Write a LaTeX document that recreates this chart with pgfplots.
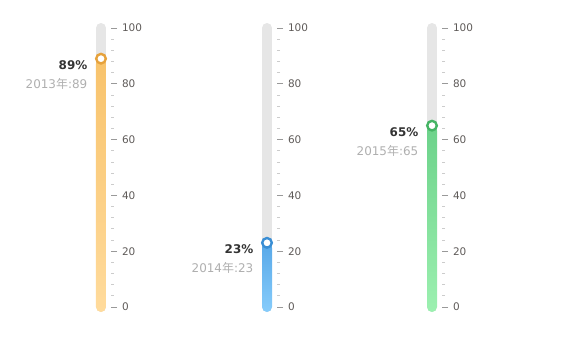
\documentclass[border=0pt]{standalone}
\usepackage{pgfplots}
\pgfplotsset{compat=1.18}
\usepackage{fontspec}
\setmainfont{DejaVu Sans}
\newfontfamily\cjk{Noto Sans CJK SC}
\definecolor{track}{HTML}{E6E6E6}
\definecolor{obot}{HTML}{FFDB9C}
\definecolor{otop}{HTML}{F8C36C}
\definecolor{omark}{HTML}{E6A23C}
\definecolor{bbot}{HTML}{86CCFB}
\definecolor{btop}{HTML}{58A8E8}
\definecolor{bmark}{HTML}{3A8ED4}
\definecolor{gbot}{HTML}{9CF0B0}
\definecolor{gtop}{HTML}{6CD28A}
\definecolor{gmark}{HTML}{45B464}
\definecolor{ticklab}{HTML}{5E5A58}
\definecolor{majt}{HTML}{999999}
\definecolor{mint}{HTML}{CCCCCC}
\definecolor{valtxt}{HTML}{333333}
\definecolor{subtxt}{HTML}{AFAFAF}
\pgfplotsset{
  thermo/.style={
    scale only axis, width=20bp, height=279bp,
    xmin=-1, xmax=1, ymin=0, ymax=100, clip=false,
    axis line style={draw=none},
    xtick=\empty,
    ytick={0,20,40,60,80,100},
    minor y tick num=4,
    ytick pos=right, yticklabel pos=right,
    tick align=outside,
    major tick length=6bp, minor tick length=3bp,
    major tick style={majt, line width=0.8bp},
    minor tick style={mint, line width=0.8bp},
    /pgf/number format/assume math mode=true,
    yticklabel style={font=\fontsize{10.5}{12}\selectfont, text=ticklab, anchor=west, xshift=1.5bp},
    anchor=south west,
  },
}
\newcommand{\thermo}[6]{%
  % #1 x pos, #2 value, #3 bottom col, #4 top col, #5 mark col, #6 year
  \begin{axis}[thermo, at={(#1bp,44bp)}]
    \addplot[track, line width=10bp, line cap=round] coordinates {(0,0) (0,100)};
    \addplot[draw=none, bottom color=#3, top color=#4, rounded corners=5bp]
      coordinates {(0,-1.8) (0.5,-1.8) (0.5,#2) (-0.5,#2) (-0.5,-1.8) (0,-1.8)};
    \addplot[only marks, mark=*, mark size=4.8bp,
      mark options={fill=white, draw=#5, line width=2.4bp}] coordinates {(0,#2)};
    \node[anchor=east, inner sep=0pt, text=valtxt, font=\fontsize{12}{14}\selectfont\bfseries]
      at (axis cs:0,#2) [xshift=-13.5bp, yshift=-6.5bp] {#2\%};
    \node[anchor=east, inner sep=0pt, text=subtxt, font=\fontsize{12}{14}\selectfont]
      at (axis cs:0,#2) [xshift=-13.5bp, yshift=-25bp] {#6{\cjk 年}:#2};
  \end{axis}%
}
\begin{document}
\begin{tikzpicture}
\useasboundingbox (0,0) rectangle (588bp,351bp);
\thermo{91}{89}{obot}{otop}{omark}{2013}
\thermo{257}{23}{bbot}{btop}{bmark}{2014}
\thermo{422}{65}{gbot}{gtop}{gmark}{2015}
\end{tikzpicture}
\end{document}
